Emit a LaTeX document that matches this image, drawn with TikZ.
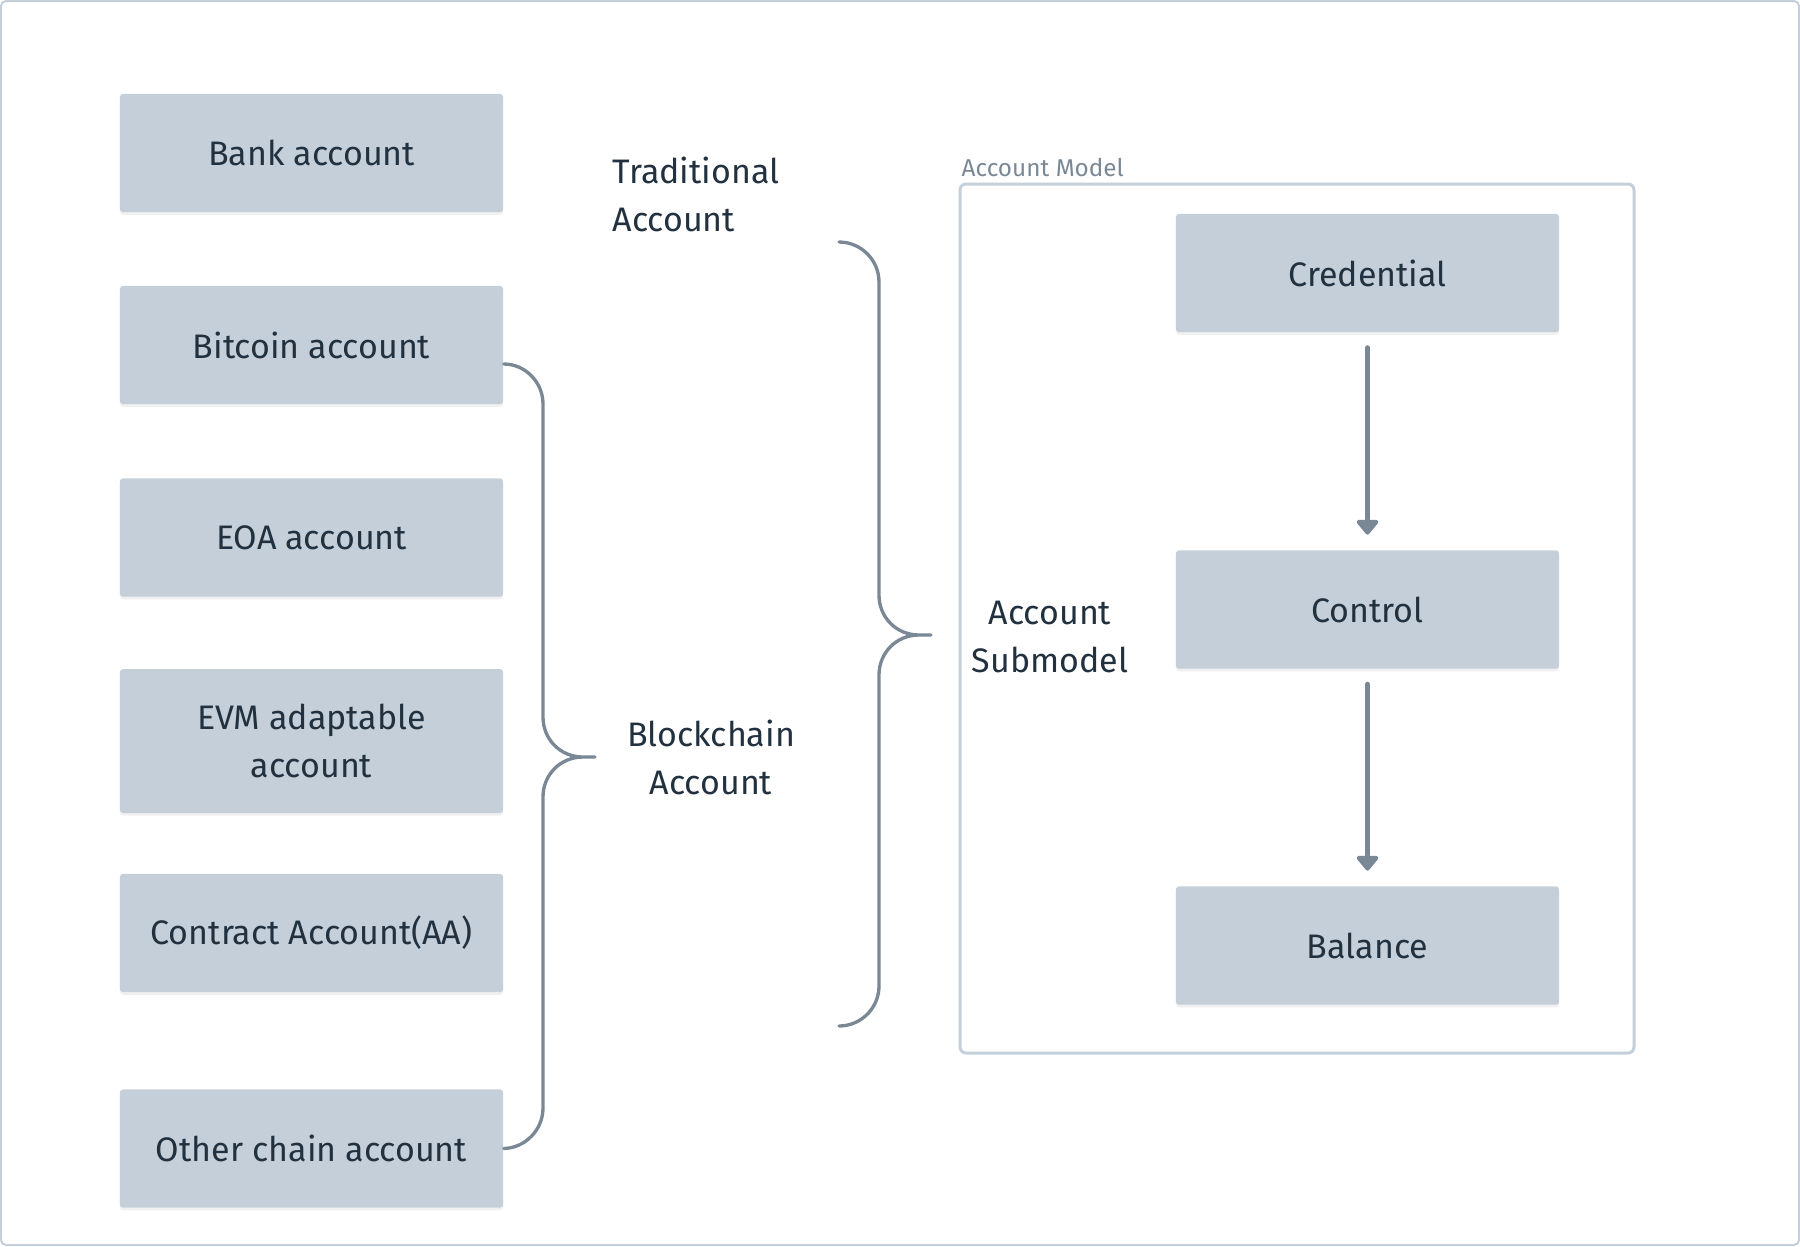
\documentclass[tikz,border=0pt]{standalone}
\usepackage{fontspec}
\setmainfont{Fira Sans}
\usetikzlibrary{arrows.meta,shadows}
\definecolor{boxfill}{HTML}{C4CFD9}
\definecolor{inkdark}{HTML}{22313F}
\definecolor{linegray}{HTML}{7A8896}

\begin{document}
\begin{tikzpicture}[
  x=0.3pt, y=-0.3pt,
  every node/.style = {font=\fontsize{10.2}{14.4}\selectfont, text=inkdark, inner sep=0pt},
  acct/.style = {fill=boxfill, rounded corners=1pt, minimum width=115pt, minimum height=35.5pt, align=center,
    drop shadow={opacity=0.12, shadow xshift=0pt, shadow yshift=-0.8pt}},
  tag/.style = {align=center},
  brace/.style = {draw=linegray, line width=1pt, line cap=round, line join=round},
  flow/.style = {draw=linegray, line width=1.6pt, line cap=round, shorten <=4.5pt, shorten >=4.5pt,
    -{Triangle[width=7.5pt, length=4.8pt, round]}}
]
% page and frame
\useasboundingbox (0,0) rectangle (1800,1246);
\draw[boxfill, line width=0.6pt, rounded corners=1.5pt] (1,1) rectangle (1799,1245);

% left column
\node[acct] (bank)     at (311.5,153)   {Bank account};
\node[acct] (bitcoin)  at (311.5,345)   {Bitcoin account};
\node[acct] (eoa)      at (311.5,537.5) {EOA account};
\node[acct, minimum height=43.2pt] (evm) at (311.5,741) {EVM adaptable\\account};
\node[acct] (contract) at (311.5,933)   {Contract Account(AA)};
\node[acct] (other)    at (311.5,1148.5) {Other chain account};

% labels
\node[tag, anchor=west, align=left] (traditional) at (612,194.5) {Traditional\\Account};
\node[tag] (blockchain) at (711,757) {Blockchain\\Account};
\node[tag] (submodel)   at (1050,637) {Account\\Submodel};

% account model
\draw[boxfill, line width=0.9pt, rounded corners=1.8pt] (960,184) rectangle (1634,1053);
\node[anchor=base west, text=linegray, font=\fontsize{7.3}{8.5}\selectfont] (modeltag) at (961,176) {Account Model};
\node[acct] (credential) at (1367.5,273)   {Credential};
\node[acct] (control)    at (1367.5,609.5) {Control};
\node[acct] (balance)    at (1367.5,945.5) {Balance};

\draw[flow] (credential) -- (control);
\draw[flow] (control) -- (balance);

% braces
\coordinate (btop) at (bitcoin.east |- 0,364);
\coordinate (btip) at (595,757);
\draw[brace] (btop) .. controls (525,364) and (543,382) .. (543,404) -- (543,717)
  .. controls (543,739) and (560,757) .. (583,757) -- (btip)
  -- (583,757) .. controls (560,757) and (543,775) .. (543,797) -- (543,1108)
  .. controls (543,1130) and (525,1148) .. (other.east);

\coordinate (ttop) at (839,242);
\coordinate (ttip) at (931,635);
\coordinate (tbot) at (839,1026);
\draw[brace] (ttop) .. controls (861,242) and (879,260) .. (879,282) -- (879,595)
  .. controls (879,617) and (896,635) .. (919,635) -- (ttip)
  -- (919,635) .. controls (896,635) and (879,653) .. (879,675) -- (879,986)
  .. controls (879,1008) and (861,1026) .. (tbot);
\end{tikzpicture}
\end{document}
